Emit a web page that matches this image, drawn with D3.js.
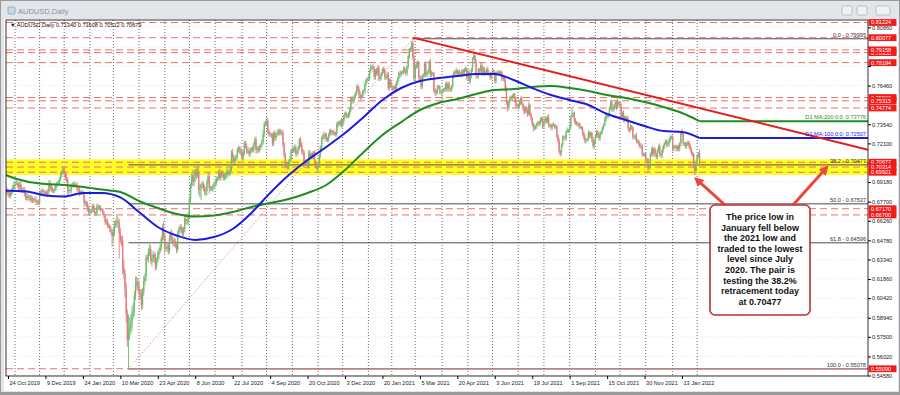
<!DOCTYPE html>
<html>
<head>
<meta charset="utf-8">
<script src="https://cdn.jsdelivr.net/npm/d3@7"></script>
<style>
  body { margin: 0; background: #9b9b9b; }
  svg { display: block; font-family: "Liberation Sans", Arial, sans-serif; }
  .axis text { font-size: 5.6px; fill: #222; }
  .axis line { stroke: #000; }
  .axis path { display: none; }
</style>
</head>
<body>
<svg id="chart" width="900" height="395"></svg>
<script>
// trading calendar: weekdays, minus these days
var firstDay = '2019-10-22';
var holidays = ['2019-12-25', '2020-01-01', '2020-12-25', '2021-01-01'];

// daily closes in pips (x 0.0001); each day opens at the prior close
var firstOpen = 6862;
var closes = [
  6858,6845,6838,6815,6832,6860,6876,6894,                                                             // Oct 19
  6905,6906,6897,6880,6900,6858,6855,6860,6840,6812,6798,6812,6800,6785,6790,6780,6790,6785,6770,6768,6765, // Nov 19
  6835,6840,6855,6843,6840,6838,6825,6847,6903,6880,6865,6855,6857,6870,6900,6915,6920,6945,6976,6990,7021, // Dec 19
  6978,6950,6934,6850,6858,6853,6897,6897,6905,6900,6899,6865,6860,6840,6844,6840,6842,6760,6765,6750,6725,6688, // Jan 20
  6695,6705,6735,6720,6683,6685,6735,6735,6722,6713,6713,6687,6665,6615,6622,6593,6589,6560,6542,6510, // Feb 20
  6540,6593,6605,6625,6620,6530,6480,6475,6270,6228,6107,5927,5725,5787,5817,5855,5930,5945,6057,6155,6165,6132, // Mar 20
  6080,6070,5990,6090,6170,6200,6350,6340,6390,6410,6320,6340,6370,6350,6280,6330,6370,6400,6430,6490,6580,6510, // Apr 20
  6420,6420,6430,6400,6500,6530,6480,6460,6470,6440,6410,6530,6560,6580,6560,6530,6560,6640,6620,6620,6670, // May 20
  6790,6890,6970,6920,6960,6990,6970,6990,6860,6870,6900,6900,6870,6850,6850,6920,6960,6870,6870,6870,6880,6900, // Jun 20
  6910,6940,6950,6990,6950,6990,6980,6950,6960,6970,7000,6980,6990,7020,7140,7100,7070,7100,7110,7160,7170,7160,7140, // Jul 20
  7100,7140,7210,7190,7150,7150,7130,7160,7170,7160,7200,7240,7160,7170,7160,7180,7200,7220,7280,7360,7370, // Aug 20
  7380,7300,7280,7280,7270,7210,7290,7250,7280,7290,7300,7290,7300,7290,7200,7120,7050,7050,7030,7080,7090,7160, // Sep 20
  7160,7160,7180,7130,7150,7180,7240,7200,7150,7140,7060,7070,7060,7040,7140,7110,7130,7110,7140,7070,7040,7020, // Oct 20
  7050,7120,7170,7250,7270,7260,7280,7240,7240,7280,7310,7290,7300,7290,7290,7280,7350,7370,7360,7380,7350, // Nov 20
  7380,7420,7440,7420,7420,7430,7470,7550,7530,7540,7570,7590,7640,7620,7580,7560,7570,7600,7610,7660,7690,7700, // Dec 20
  7700,7760,7790,7790,7770,7710,7760,7740,7780,7700,7710,7740,7770,7760,7710,7710,7730,7630,7680,7650, // Jan 21
  7630,7620,7640,7620,7670,7700,7740,7730,7750,7750,7770,7760,7740,7790,7870,7920,7920,7970,7860,7700, // Feb 21
  7790,7800,7820,7710,7700,7640,7720,7730,7810,7730,7740,7760,7820,7730,7740,7740,7610,7590,7600,7640,7640,7600,7600, // Mar 21
  7610,7620,7620,7660,7620,7660,7620,7620,7640,7720,7750,7740,7760,7740,7750,7740,7730,7760,7740,7770,7770,7710, // Apr 21
  7750,7680,7720,7770,7850,7870,7830,7720,7720,7770,7760,7800,7740,7780,7740,7750,7770,7740,7740,7710,7740, // May 21
  7760,7750,7680,7740,7750,7750,7740,7750,7700,7710,7690,7620,7520,7480,7530,7560,7550,7570,7580,7540,7500,7500, // Jun 21
  7490,7520,7550,7510,7480,7450,7480,7460,7430,7500,7430,7400,7360,7330,7330,7340,7360,7370,7360,7390,7400,7340, // Jul 21
  7370,7400,7380,7410,7350,7350,7330,7350,7350,7340,7340,7270,7230,7150,7140,7200,7260,7260,7250,7300,7310,7310, // Aug 21
  7340,7410,7430,7440,7380,7370,7360,7360,7340,7330,7330,7290,7260,7230,7240,7240,7290,7270,7290,7240,7190,7230, // Sep 21
  7270,7300,7270,7250,7290,7300,7330,7350,7390,7420,7420,7430,7480,7520,7470,7470,7500,7520,7480,7520,7520, // Oct 21
  7490,7410,7440,7390,7410,7410,7390,7320,7310,7340,7330,7260,7260,7270,7230,7230,7210,7190,7190,7130,7130,7130, // Nov 21
  7090,7090,7030,7040,7130,7170,7130,7170,7130,7110,7160,7190,7130,7120,7160,7190,7210,7230,7200,7210,7240,7260,7260, // Dec 21
  7170,7190,7190,7170,7190,7170,7210,7290,7280,7210,7210,7190,7210,7220,7190,7170,7140,7130,7040,7000,7070, // Jan 22
  7120,7134,7068                                                                                       // Feb 22
];

// wicks per day in 10-pip units (base 36): first char above the body, second below
var wicks = [
  '22 22 23 12 22 12 23 32',
  '22 31 22 23 22 32 22 22 23 23 22 22 12 22 32 22 12 22 23 12 22',
  '22 22 22 12 22 12 22 22 32 33 22 22 12 22 12 12 11 12 22 22 11',
  '22 22 32 23 32 12 12 22 12 22 12 22 12 23 12 22 12 13 22 12 23 22',
  '22 12 22 23 22 12 22 22 12 22 11 12 12 12 22 22 22 12 22 28',
  '34 33 32 43 35 2j 43 34 45 64 36 57 35 dm 86 65 56 64 44 53 45 34',
  '35 34 44 33 43 33 23 22 33 43 32 34 33 24 33 22 32 23 22 23 22 43',
  '24 32 23 33 22 23 33 23 33 22 33 22 23 22 23 22 22 22 32 23 22',
  '22 23 22 43 53 34 33 72 34 36 19 33 22 33 34 23 32 34 22 22 23 22',
  '22 22 12 22 32 12 22 22 32 22 23 22 12 22 22 33 23 22 22 22 22 23 22',
  '22 22 22 22 22 22 32 22 12 22 22 22 23 22 22 22 12 22 32 12 12',
  '32 22 22 22 12 22 12 22 12 22 22 22 22 12 22 22 23 22 22 12 22 12',
  '22 22 22 22 12 12 12 22 22 22 22 22 12 12 22 22 12 22 12 22 12 22',
  '13 12 22 12 12 32 12 12 22 12 12 12 12 12 12 12 22 12 12 12 22',
  '12 12 12 12 12 22 12 12 22 12 12 12 12 22 23 22 12 11 12 12 12 12',
  '22 12 22 12 22 22 12 22 22 22 12 12 12 22 22 22 22 22 22 22',
  '22 12 12 22 12 12 12 22 12 12 22 22 22 12 12 12 22 12 42 22',
  '22 22 22 12 23 22 12 12 12 22 12 12 22 32 22 12 12 22 22 12 12 12 12',
  '17 12 12 12 22 12 22 12 12 12 12 12 22 12 12 22 12 12 12 12 22 12',
  '12 22 12 12 12 21 22 22 12 12 12 22 22 12 12 12 12 22 22 12 12',
  '12 12 12 12 12 12 12 12 12 12 12 12 22 13 12 12 12 12 12 12 12 12',
  '12 22 12 21 12 22 12 12 12 21 12 12 12 13 22 12 12 12 12 21 12 12',
  '12 21 12 12 22 12 12 12 21 12 12 12 12 22 13 12 12 12 12 12 21 12',
  '12 12 41 12 12 22 12 12 12 21 12 12 12 22 12 12 21 12 12 12 22 12',
  '12 12 12 22 12 12 12 12 21 12 12 12 12 22 12 12 12 12 22 41 12',
  '12 22 12 22 12 12 12 22 12 21 12 12 12 12 22 12 12 12 12 22 12 12',
  '12 12 14 12 12 12 22 12 12 12 12 12 22 12 12 12 12 11 12 12 12 12 12',
  '12 12 12 12 12 12 12 12 31 12 12 12 12 12 12 22 12 12 12 13 12',
  '12 12 32'
];

var lastQuote = ['0.71340', '0.71608', '0.70512', '0.70679'];

// moving averages at sample dates
var maDates = ['2019-10-22','2019-10-24','2019-11-15','2019-12-09','2020-01-02','2020-01-24','2020-02-17','2020-03-10',
  '2020-04-01','2020-04-23','2020-05-15','2020-06-08','2020-06-30','2020-07-22','2020-08-13','2020-09-04','2020-09-28',
  '2020-10-20','2020-11-11','2020-12-03','2020-12-28','2021-01-20','2021-02-11','2021-03-05','2021-03-29','2021-04-20',
  '2021-05-12','2021-06-03','2021-06-25','2021-07-19','2021-08-10','2021-09-01','2021-09-23','2021-10-15','2021-11-08',
  '2021-11-30','2021-12-22','2022-01-13','2022-02-03'];
var ma100 = [0.6853,0.6853,0.6847,0.6817,0.6809,0.6836,0.6836,0.6802,0.6692,0.6579,0.6515,0.6481,0.6503,0.6564,0.6685,
  0.6836,0.6971,0.7085,0.7183,0.7288,0.7409,0.7537,0.7628,0.7681,0.7703,0.7719,0.7734,0.7734,0.7688,0.7628,0.7575,
  0.7537,0.7500,0.7432,0.7387,0.7341,0.7303,0.7296,0.72507];
var ma200 = [0.6971,0.6964,0.6922,0.6903,0.6896,0.6881,0.6862,0.6843,0.6775,0.6722,0.6677,0.6658,0.6666,0.6692,0.6730,
  0.6760,0.6790,0.6836,0.6896,0.7009,0.7145,0.7273,0.7371,0.7462,0.7515,0.7545,0.7583,0.7613,0.7620,0.7636,0.7643,
  0.7628,0.7605,0.7575,0.7553,0.7522,0.7485,0.7439,0.73776];

var tickDates = ['2019-10-24','2019-12-09','2020-01-24','2020-03-10','2020-04-23','2020-06-08','2020-07-22','2020-09-04',
  '2020-10-20','2020-12-03','2021-01-20','2021-03-05','2021-04-20','2021-06-03','2021-07-19','2021-09-01','2021-10-15',
  '2021-11-30','2022-01-13'];
var priceTicks = [0.80860,0.79380,0.77940,0.76460,0.75020,0.73540,0.72100,0.70620,0.69180,0.67700,0.66260,0.64780,
  0.63340,0.61860,0.60420,0.58940,0.57500,0.56020,0.54580];

// horizontal line objects (draw order), yellow zone, fibonacci and trend line anchors
var hLines = [0.81224,0.80077,0.78950,0.79158,0.78194,0.75560,0.75315,0.74774,0.70677,0.70314,0.69921,0.67170,0.66700,0.55090];
var zone = [0.6972, 0.7090];
var fibLow = ['2020-03-19', 0.55078];
var fibHigh = ['2021-02-25', 0.79995];
var fibLevels = [0, 38.2, 50, 61.8, 100];
var trendPts = [['2021-02-25', 0.8008], ['2022-01-13', 0.7508]];
var noteLines = ['The price low in', 'January fell below', 'the 2021 low and', 'traded to the lowest', 'level since July',
  '2020. The pair is', 'testing the 38.2%', 'retracement today', 'at 0.70477'];

var W = 900, H = 395;
var plot = {left: 6, right: 868, top: 20, bottom: 376};
var bullColor = '#6fbb6f', bearColor = '#e07c7c';
var fmt5 = function(v) { return (Math.round(v * 1e5 + 1e-6) / 1e5).toFixed(5); };

// build the calendar
var fmtKey = d3.utcFormat('%Y-%m-%d');
var dates = [];
var day = d3.utcParse('%Y-%m-%d')(firstDay);
while (dates.length < closes.length) {
  var wd = day.getUTCDay();
  if (wd !== 0 && wd !== 6 && holidays.indexOf(fmtKey(day)) < 0) dates.push(day);
  day = d3.utcDay.offset(day, 1);
}
var indexOf = {};
dates.forEach(function(d, i) { indexOf[fmtKey(d)] = i; });

var wickList = wicks.join(' ').split(/\s+/);
var bars = closes.map(function(c, i) {
  var o = i ? closes[i - 1] : firstOpen;
  var w = wickList[i] || '11';
  var up = parseInt(w[0], 36) * 10, dn = parseInt(w[1], 36) * 10;
  return {i: i, o: o / 1e4, c: c / 1e4, h: (Math.max(o, c) + up) / 1e4, l: (Math.min(o, c) - dn) / 1e4};
});

var x = d3.scaleLinear().domain([indexOf['2019-10-24'], indexOf['2022-01-13']]).range([8, 682]);
var y = d3.scaleLinear().domain([0.54544, 0.81412]).range([plot.bottom, plot.top]);

var svg = d3.select('#chart');

// window frame
svg.append('rect').attr('width', W).attr('height', H).attr('fill', '#9b9b9b');
svg.append('rect').attr('x', 1).attr('y', 1).attr('width', W - 2).attr('height', H - 4).attr('fill', '#e2e6eb');
svg.append('rect').attr('x', 4).attr('y', 19).attr('width', 894).attr('height', 372).attr('fill', '#fff');
svg.append('rect').attr('x', 8).attr('y', 7).attr('width', 7).attr('height', 7).attr('rx', 1)
    .attr('fill', '#c9d6e6').attr('stroke', '#8ca0b8').attr('stroke-width', 0.8);
svg.append('text').attr('x', 18).attr('y', 13.5).attr('font-size', 7.5).attr('fill', '#8a939e').text('AUDUSD,Daily');
[[842, 10], [857, 10], [876, 14]].forEach(function(b) {
  svg.append('rect').attr('x', b[0]).attr('y', 6).attr('width', b[1]).attr('height', 9).attr('rx', 1.5)
      .attr('fill', '#f0f2f5').attr('stroke', '#a8adb5').attr('stroke-width', 0.7);
});

var defs = svg.append('defs');
defs.append('clipPath').attr('id', 'plotClip').append('rect')
    .attr('x', plot.left).attr('y', plot.top)
    .attr('width', plot.right - plot.left).attr('height', plot.bottom - plot.top);
defs.append('marker').attr('id', 'arrowRed').attr('viewBox', '0 0 10 10')
    .attr('refX', 6).attr('refY', 5).attr('markerWidth', 3.2).attr('markerHeight', 3.2)
    .attr('orient', 'auto').append('path').attr('d', 'M0,0L10,5L0,10z').attr('fill', '#e8473d');

var g = svg.append('g').attr('clip-path', 'url(#plotClip)');

// grid
g.selectAll('.hgrid').data(priceTicks).enter().append('line')
    .attr('x1', plot.left).attr('x2', plot.right)
    .attr('y1', function(d) { return y(d); }).attr('y2', function(d) { return y(d); })
    .attr('stroke', '#e6e6e6').attr('stroke-dasharray', '1,2');
var monthStarts = dates.map(function(d, i) { return i; }).filter(function(i) {
  return i > 0 && dates[i].getUTCMonth() !== dates[i - 1].getUTCMonth();
});
g.selectAll('.vgrid').data(monthStarts).enter().append('line')
    .attr('x1', function(i) { return x(i); }).attr('x2', function(i) { return x(i); })
    .attr('y1', plot.top).attr('y2', plot.bottom)
    .attr('stroke', '#6a6a6a').attr('stroke-dasharray', '1,2');

// yellow zone
g.append('rect').attr('x', plot.left).attr('width', plot.right - plot.left)
    .attr('y', y(zone[1])).attr('height', y(zone[0]) - y(zone[1]))
    .attr('fill', '#ffff22');

// fibonacci levels
var iLow = indexOf[fibLow[0]], iHigh = indexOf[fibHigh[0]];
var fib = fibLevels.map(function(l) {
  return {l: l, p: fibHigh[1] - (fibHigh[1] - fibLow[1]) * l / 100};
});
g.selectAll('.fib').data(fib).enter().append('line')
    .attr('x1', function(d) { return d.l === 0 ? x(iHigh) : x(iLow); }).attr('x2', plot.right)
    .attr('y1', function(d) { return y(d.p); }).attr('y2', function(d) { return y(d.p); })
    .attr('stroke', '#4a4a4a').attr('stroke-width', 1);

// horizontal red lines
g.selectAll('.hline').data(hLines).enter().append('line')
    .attr('x1', plot.left).attr('x2', plot.right)
    .attr('y1', function(d) { return y(d); }).attr('y2', function(d) { return y(d); })
    .attr('stroke', '#ee6f6f').attr('stroke-dasharray', '7,4');

// fib diagonal
g.append('line')
    .attr('x1', x(iLow)).attr('y1', y(fibLow[1]))
    .attr('x2', x(iHigh)).attr('y2', y(fibHigh[1]))
    .attr('stroke', '#e07070').attr('stroke-dasharray', '1,2');

// candles
var candle = g.selectAll('.candle').data(bars).enter().append('g')
    .attr('class', 'candle')
    .attr('fill', function(d) { return d.c >= d.o ? bullColor : bearColor; })
    .attr('stroke', function(d) { return d.c >= d.o ? bullColor : bearColor; });
candle.append('line')
    .attr('x1', function(d) { return x(d.i); }).attr('x2', function(d) { return x(d.i); })
    .attr('y1', function(d) { return y(d.h); }).attr('y2', function(d) { return y(d.l); })
    .attr('stroke-width', 0.9);
candle.append('rect')
    .attr('stroke', 'none')
    .attr('x', function(d) { return x(d.i) - 0.65; }).attr('width', 1.3)
    .attr('y', function(d) { return y(Math.max(d.o, d.c)); })
    .attr('height', function(d) { return Math.max(0.6, Math.abs(y(d.o) - y(d.c))); });

// moving averages
var lastIdx = bars.length - 1;
function drawMA(values, color) {
  var pts = maDates.map(function(k, j) { return {i: indexOf[k], v: values[j]}; });
  g.append('path').datum(pts)
      .attr('d', d3.line().x(function(d) { return x(d.i); }).y(function(d) { return y(d.v); }).curve(d3.curveMonotoneX))
      .attr('fill', 'none').attr('stroke', color).attr('stroke-width', 2);
  var v = values[values.length - 1];
  g.append('line').attr('x1', x(lastIdx)).attr('x2', plot.right)
      .attr('y1', y(v)).attr('y2', y(v)).attr('stroke', color).attr('stroke-width', 2);
}
drawMA(ma200, '#1f8c1f');
drawMA(ma100, '#1c1ce0');

// trend line (ray to the right)
var t0 = indexOf[trendPts[0][0]], t1 = indexOf[trendPts[1][0]];
var slope = (trendPts[1][1] - trendPts[0][1]) / (t1 - t0);
var tEnd = x.invert(plot.right);
g.append('line')
    .attr('x1', x(t0)).attr('y1', y(trendPts[0][1]))
    .attr('x2', plot.right).attr('y2', y(trendPts[0][1] + slope * (tEnd - t0)))
    .attr('stroke', '#e31c1c').attr('stroke-width', 2);

// object labels
var lab = svg.append('g').attr('font-size', 5.6);
lab.selectAll('.fibText').data(fib).enter().append('text')
    .attr('x', 866).attr('y', function(d) { return y(d.p) - 1.6; })
    .attr('text-anchor', 'end').attr('fill', '#333')
    .text(function(d) { return d3.format('.1f')(d.l) + ' - ' + fmt5(d.p); });
lab.append('text').attr('x', 866).attr('y', y(ma200[ma200.length - 1]) - 2.2)
    .attr('text-anchor', 'end').attr('fill', '#1f8c1f')
    .text('D1 MA:200:0:0: ' + fmt5(ma200[ma200.length - 1]));
lab.append('text').attr('x', 866).attr('y', y(ma100[ma100.length - 1]) - 2.2)
    .attr('text-anchor', 'end').attr('fill', '#1c1ce0')
    .text('D1 MA:100:0:0: ' + fmt5(ma100[ma100.length - 1]));

// header
svg.append('text').attr('x', 10).attr('y', 26.5).attr('font-size', 5.6).attr('fill', '#111')
    .text('\u25BC AUDUSD,Daily  ' + lastQuote.join(' '));

// plot frame
svg.append('rect').attr('x', plot.left).attr('y', plot.top)
    .attr('width', plot.right - plot.left).attr('height', plot.bottom - plot.top)
    .attr('fill', 'none').attr('stroke', '#000').attr('stroke-width', 0.8);

// axes
var yAxis = d3.axisRight(y).tickValues(priceTicks).tickSize(3).tickSizeOuter(0).tickPadding(1)
    .tickFormat(d3.format('.5f'));
var yAxisG = svg.append('g').attr('class', 'axis').attr('transform', 'translate(' + plot.right + ',0)').call(yAxis);
// tick labels sitting under a line tag are covered in the original
yAxisG.selectAll('text').style('display', function(d) {
  return hLines.some(function(p) { return Math.abs(y(p) - y(d)) < 3.6; }) ? 'none' : null;
});

var xAxis = d3.axisBottom(x).tickValues(tickDates.map(function(k) { return indexOf[k]; }))
    .tickSize(3).tickSizeOuter(0).tickPadding(2)
    .tickFormat(function(i) { return d3.utcFormat('%-d %b %Y')(dates[i]); });
svg.append('g').attr('class', 'axis').attr('transform', 'translate(0,' + plot.bottom + ')').call(xAxis)
    .selectAll('text').attr('text-anchor', 'start').attr('dx', 1);

// red price labels of the line objects
var tag = svg.append('g').selectAll('.tag').data(hLines).enter().append('g');
tag.append('rect').attr('x', plot.right + 0.5).attr('y', function(d) { return y(d) - 3.4; })
    .attr('width', 28).attr('height', 6.8).attr('fill', '#f31a1a');
tag.append('text').attr('x', plot.right + 3).attr('y', function(d) { return y(d) + 2; })
    .attr('font-size', 5.6).attr('fill', '#fff').text(fmt5);

// annotation
var note = svg.append('g');
note.append('line').attr('x1', 725).attr('y1', 205).attr('x2', x(indexOf['2022-01-28']) + 2).attr('y2', y(0.6966) + 4)
    .attr('stroke', '#e8473d').attr('stroke-width', 3).attr('marker-end', 'url(#arrowRed)');
note.append('line').attr('x1', 793).attr('y1', 205).attr('x2', 826).attr('y2', y(0.7045) + 3)
    .attr('stroke', '#e8473d').attr('stroke-width', 3).attr('marker-end', 'url(#arrowRed)');
note.append('rect').attr('x', 710).attr('y', 205).attr('width', 100).attr('height', 110).attr('rx', 5)
    .attr('fill', '#fff').attr('stroke', '#b53030').attr('stroke-width', 1.6);
note.selectAll('text').data(noteLines).enter().append('text')
    .attr('x', 760).attr('y', function(d, i) { return 220 + i * 10.6; })
    .attr('text-anchor', 'middle').attr('font-size', 9).attr('font-weight', 'bold').attr('fill', '#111')
    .text(function(d) { return d; });
</script>
</body>
</html>
